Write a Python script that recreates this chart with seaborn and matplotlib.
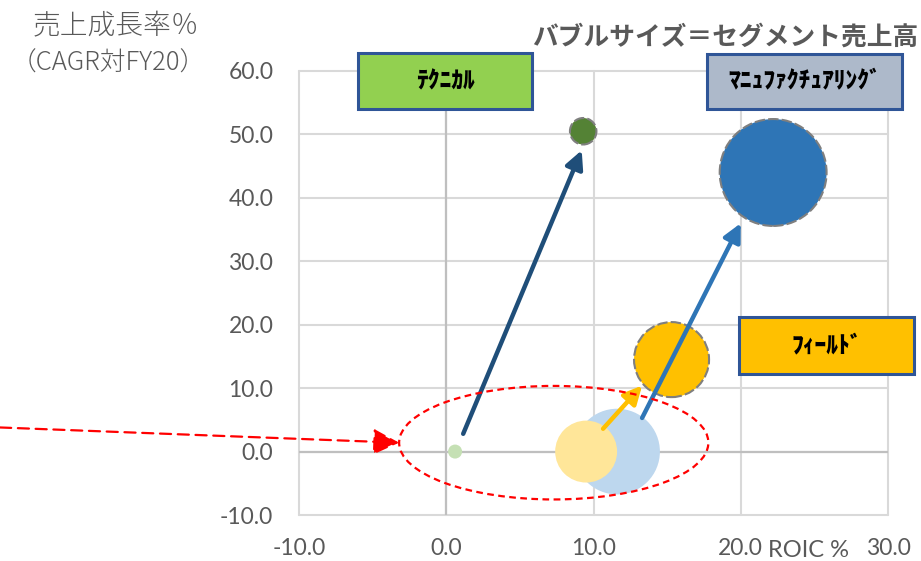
import matplotlib
matplotlib.use("Agg")
import matplotlib.pyplot as plt
from matplotlib.patches import Ellipse, Rectangle
import seaborn as sns
import pandas as pd

# ---------------- data ----------------
segment_keys = ["tech", "manu", "field"]
segment_labels = ["ﾃｸﾆｶﾙ", "ﾏﾆｭﾌｧｸﾁｭｱﾘﾝｸﾞ", "ﾌｨｰﾙﾄﾞ"]
roic_fy20 = [0.6, 11.6, 9.5]
growth_fy20 = [0.0, 0.0, 0.0]
sales_fy20 = [12, 450, 235]
roic_now = [9.3, 22.2, 15.3]
growth_now = [50.5, 44.0, 14.5]
sales_now = [43, 700, 345]

color_fy20 = ["#C5E0B4", "#BDD7EE", "#FFE699"]
color_now = ["#548235", "#2E75B6", "#FFC000"]
box_colors = ["#92D050", "#ADB9CA", "#FFC000"]

arrow_start_x = [1.15, 13.3, 10.65]
arrow_start_y = [2.8, 5.3, 3.6]
arrow_end_x = [9.2, 20.0, 13.3]
arrow_end_y = [47.5, 36.0, 10.4]
arrow_colors = ["#1F4E79", "#2E75B6", "#FFC000"]

pointer_start = (-30.3, 3.8)
pointer_end = (-3.2, 1.4)
ellipse_center = (7.3, 1.4)
ellipse_size = (21.0, 17.9)

x_ticks = [-10, 0, 10, 20, 30]
y_ticks = [-10, 0, 10, 20, 30, 40, 50, 60]

# ---------------- figure ----------------
sns.set_theme(style="white")
plt.rcParams['font.family'] = ['Lato', 'Noto Sans CJK JP', 'DejaVu Sans']
JP = ['Noto Sans CJK JP', 'DejaVu Sans']
GRAY = "#595959"

W, H = 921, 561
fig = plt.figure(figsize=(W / 100, H / 100), dpi=100)
L, R, T, B = 299, 888, 71, 515
ax = fig.add_axes([L / W, (H - B) / H, (R - L) / W, (B - T) / H])

order = [1, 2, 0]  # draw big light-blue first
df_old = pd.DataFrame({
    "id": [segment_keys[i] + "_fy20" for i in order],
    "roic": [roic_fy20[i] for i in order],
    "growth": [growth_fy20[i] for i in order],
    "sales": [sales_fy20[i] for i in order],
})
df_new = pd.DataFrame({
    "id": [k + "_now" for k in segment_keys],
    "roic": roic_now,
    "growth": growth_now,
    "sales": sales_now,
})
pal = {k + "_fy20": c for k, c in zip(segment_keys, color_fy20)}
pal.update({k + "_now": c for k, c in zip(segment_keys, color_now)})

k = 8.46
size_kw = dict(size="sales", sizes=(k * 12, k * 700), size_norm=(12, 700), legend=False)

sns.scatterplot(data=df_old, x="roic", y="growth", hue="id", palette=pal,
                linewidth=0, ax=ax, zorder=3, **size_kw)
sns.scatterplot(data=df_new, x="roic", y="growth", hue="id", palette=pal,
                edgecolor="#7F7F7F", linewidth=1.5, linestyle=(0, (5, 1.5)),
                ax=ax, zorder=3, **size_kw)

# arrows
for sx, sy, ex, ey, c in zip(arrow_start_x, arrow_start_y, arrow_end_x, arrow_end_y, arrow_colors):
    ax.annotate("", xy=(ex, ey), xytext=(sx, sy),
                arrowprops=dict(arrowstyle="-|>,head_length=0.6,head_width=0.3",
                                color=c, lw=3.2, mutation_scale=18,
                                shrinkA=0, shrinkB=0), zorder=5)

# red dashed ellipse and pointer
ax.add_patch(Ellipse(ellipse_center, ellipse_size[0], ellipse_size[1], fill=False,
                     edgecolor="#FF0000", lw=1.6, linestyle=(0, (3, 2)), zorder=6))
ax.annotate("", xy=pointer_end, xytext=pointer_start, annotation_clip=False,
            arrowprops=dict(arrowstyle="-|>,head_length=0.8,head_width=0.4",
                            color="#FF0000", lw=1.6, linestyle=(0, (5, 3)),
                            mutation_scale=20, shrinkA=0, shrinkB=0), zorder=6)

# axes styling
ax.set_xlim(-10, 30)
ax.set_ylim(-10, 60)
ax.set_xticks(x_ticks)
ax.set_yticks(y_ticks)
ax.set_xticklabels([f"{v:.1f}" for v in x_ticks])
ax.set_yticklabels([f"{v:.1f}" for v in y_ticks])
ax.set_xlabel("")
ax.set_ylabel("")
for s in ax.spines.values():
    s.set_visible(False)
ax.grid(True, color="#D9D9D9", lw=1.5, zorder=0)
ax.set_axisbelow(True)
for ln in ax.get_xgridlines() + ax.get_ygridlines():
    ln.set_clip_on(False)
ax.axhline(0, color="#BFBFBF", lw=1.6, zorder=1)
ax.axvline(0, color="#BFBFBF", lw=1.6, zorder=1)
ax.tick_params(axis="both", length=0, labelsize=16.5, labelcolor=GRAY)
ax.tick_params(axis="y", pad=18.5)
ax.tick_params(axis="x", pad=16.5)

# texts
fig.text(199 / W, 1 - 26 / H, "売上成長率％", family=JP, fontsize=20, color=GRAY,
         fontweight="light", ha="right", va="center")
fig.text(206 / W, 1 - 63 / H, "（CAGR対FY20）", family=JP, fontsize=18.5, color=GRAY,
         fontweight="light", ha="right", va="center")
fig.text(918 / W, 1 - 37 / H, "バブルサイズ＝セグメント売上高", family=JP, fontsize=18.5,
         fontweight="bold", color=GRAY, ha="right", va="center")
fig.text(808 / W, (H - 557) / H, "ROIC %", fontsize=17, color=GRAY,
         ha="center", va="baseline")

# segment label boxes
boxes = [(358, 53, 532, 109), (707, 54, 902, 109), (739, 317, 914, 374)]
for (x0, y0, x1, y1), lab, fc in zip(boxes, segment_labels, box_colors):
    fig.patches.append(Rectangle((x0 / W, 1 - y1 / H), (x1 - x0) / W, (y1 - y0) / H,
                                 transform=fig.transFigure, facecolor=fc,
                                 edgecolor="#2F5597", lw=2.2, zorder=10))
    fig.text((x0 + x1) / 2 / W, 1 - (y0 + y1) / 2 / H, lab, family=JP, fontsize=17,
             fontweight="heavy", color="black", ha="center", va="center", zorder=11)

fig.savefig("out.png", dpi=100)
